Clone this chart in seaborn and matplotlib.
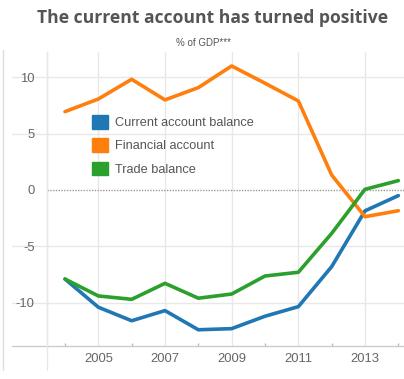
import matplotlib
matplotlib.use("Agg")
import matplotlib.pyplot as plt
from matplotlib.patches import Patch
from matplotlib.ticker import MultipleLocator
import pandas as pd
import seaborn as sns

# Balance of payments components, % of GDP
years = [2004, 2005, 2006, 2007, 2008, 2009, 2010, 2011, 2012, 2013, 2014]
current_account = [-7.9, -10.4, -11.6, -10.7, -12.4, -12.3, -11.2, -10.35, -6.8, -1.85, -0.5]
financial_account = [6.95, 8.07, 9.82, 7.99, 9.08, 11.0, 9.47, 7.9, 1.33, -2.37, -1.84]
trade_balance = [-7.9, -9.4, -9.7, -8.28, -9.6, -9.23, -7.63, -7.3, -3.85, 0.06, 0.83]

series_names = ["Current account balance", "Financial account", "Trade balance"]
series_colors = ["#1f77b4", "#ff7f0e", "#2ca02c"]
y_ticks = [-10, -5, 0, 5, 10]
x_ticks = [2005, 2007, 2009, 2011, 2013]

df = pd.DataFrame({
    "year": years * 3,
    "value": current_account + financial_account + trade_balance,
    "series": sum([[n] * len(years) for n in series_names], []),
})

sns.set_theme(style="white")
plt.rcParams["font.family"] = ["Liberation Sans", "DejaVu Sans"]

W, H = 404, 379
fig = plt.figure(figsize=(W / 100, H / 100), dpi=100)
left_px, right_px, top_px, bottom_px = 47, 404, 52, 346
ax = fig.add_axes([left_px / W, 1 - bottom_px / H,
                   (right_px - left_px) / W, (bottom_px - top_px) / H])

grid_c = "#e8e8e8"
ax.set_xlim(2003.46, 2014.17)
ax.set_ylim(-13.84, 12.24)

# gridlines
for y in y_ticks:
    if y == 0:
        continue
    ax.plot([-0.098, 1], [y, y], transform=ax.get_yaxis_transform(),
            color=grid_c, lw=1, clip_on=False, zorder=0)
for x in x_ticks:
    ax.axvline(x, color=grid_c, lw=1, zorder=0)
ax.axhline(0, color="#9a9a9a", lw=1, ls=(0, (1, 1)), zorder=1)

sns.lineplot(data=df, x="year", y="value", hue="series", hue_order=series_names,
             palette=series_colors, linewidth=2.6, ax=ax, legend=False, zorder=3)

for s in ["top", "right"]:
    ax.spines[s].set_visible(False)
ax.spines["left"].set_color(grid_c)
ax.spines["left"].set_linewidth(1)
ax.spines["bottom"].set_visible(False)
# bottom axis line reaching to the left frame, and the left line dropping below it
ax.plot([-0.098, 1], [0, 0], transform=ax.transAxes, color="#cccccc",
        lw=1, clip_on=False, zorder=2)
ax.plot([0, 0], [-0.082, 1], transform=ax.transAxes, color=grid_c,
        lw=1, clip_on=False, zorder=0)

ax.set_xticks(x_ticks)
ax.set_xticklabels([str(x) for x in x_ticks])
ax.xaxis.set_minor_locator(MultipleLocator(1))
ax.set_yticks(y_ticks)
ax.set_yticklabels([str(y) for y in y_ticks])
ax.tick_params(axis="x", which="major", length=0, pad=5, labelsize=9.4, labelcolor="#666666")
ax.tick_params(axis="x", which="minor", length=2, direction="in", color="#bbbbbb", bottom=True)
ax.tick_params(axis="y", length=0, pad=9, labelsize=9.4, labelcolor="#666666")
ax.set_xlabel("")
ax.set_ylabel("")

handles = [Patch(facecolor=c, edgecolor=c) for c in series_colors]
leg = ax.legend(handles, series_names, loc="upper left",
                bbox_to_anchor=((92 - left_px) / (right_px - left_px), 1 - (115 - top_px) / (bottom_px - top_px)),
                frameon=False, fontsize=9.2, handlelength=1.25, handleheight=1.25,
                handletextpad=0.55, labelspacing=0.72, borderaxespad=0, borderpad=0)
for t in leg.get_texts():
    t.set_color("#555555")

fig.text(213 / W, 1 - 18 / H, "The current account has turned positive",
         ha="center", va="center", fontsize=12.6, fontweight="bold", color="#555555",
         family=["Open Sans", "DejaVu Sans"])
fig.text(203 / W, 1 - 43 / H, "% of GDP***", ha="center", va="center",
         fontsize=7, color="#555555")

# thin outer frame on the left
fig.add_artist(plt.Line2D([2.5 / W, 2.5 / W], [1 - 370 / H, 1 - 50 / H],
                          transform=fig.transFigure, color="#dddddd", lw=1))

fig.savefig("out.png", dpi=100)
